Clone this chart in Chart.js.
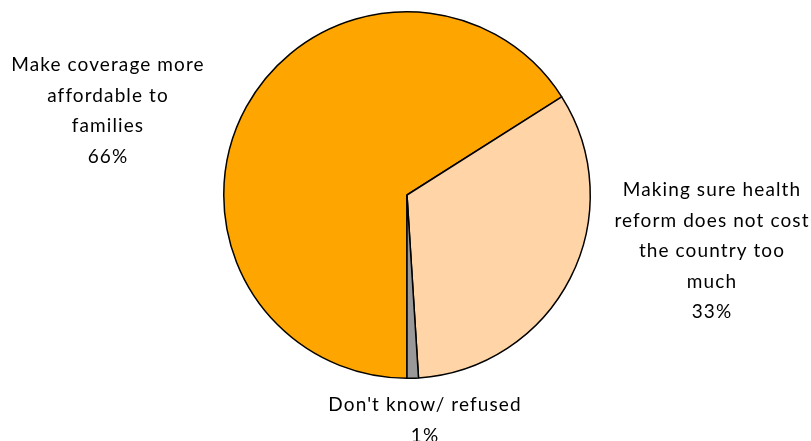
<!DOCTYPE html>
<html>
<head>
<meta charset="utf-8">
<script src="https://cdn.jsdelivr.net/npm/chart.js@4/dist/chart.umd.min.js"></script>
<style>
  html, body { margin: 0; padding: 0; background: #fff; }
  #wrap { width: 811px; height: 441px; }
</style>
</head>
<body>
<div id="wrap"><canvas id="chart1"></canvas></div>
<script>
// Dados do gráfico
var categories = [
    ['Make coverage more', 'affordable to', 'families'],
    ['Making sure health', 'reform does not cost', 'the country too', 'much'],
    ["Don't know/ refused"]
];
var values = [66, 33, 1];
var percentLabels = ['66%', '33%', '1%'];
var colors = ['#FFA500', '#FFD5A8', '#999999'];

// Onde ficam os rótulos (centro do texto, primeira linha)
var labelSpots = [
    { x: 108, y: 65 },
    { x: 712, y: 190 },
    { x: 425, y: 405 }
];

// Plugin simples para desenhar os rótulos fora da pizza
var outsideLabels = {
    id: 'outsideLabels',
    afterDraw: function (chart) {
        var ctx = chart.ctx;
        ctx.save();
        ctx.fillStyle = '#000';
        ctx.font = '19px Lato';
        ctx.textAlign = 'center';
        ctx.textBaseline = 'middle';
        if ('letterSpacing' in ctx) ctx.letterSpacing = '1.1px';
        categories.forEach(function (lines, i) {
            var spot = labelSpots[i];
            var all = lines.concat([percentLabels[i]]);
            all.forEach(function (t, j) {
                ctx.fillText(t, spot.x, spot.y + j * 30.5);
            });
        });
        ctx.restore();
    }
};

document.addEventListener('DOMContentLoaded', function () {
    var ctx = document.getElementById('chart1').getContext('2d');
    new Chart(ctx, {
        type: 'pie',
        data: {
            labels: categories.map(function (c) { return c.join(' '); }),
            datasets: [{
                data: values,
                backgroundColor: colors,
                borderColor: '#000',
                borderWidth: 1.5
            }]
        },
        options: {
            responsive: true,
            maintainAspectRatio: false,
            animation: false,
            rotation: 180,
            layout: { padding: { left: 223, right: 220, top: 11, bottom: 62 } },
            plugins: {
                legend: { display: false },
                tooltip: { enabled: false }
            }
        },
        plugins: [outsideLabels]
    });
});
</script>
</body>
</html>
